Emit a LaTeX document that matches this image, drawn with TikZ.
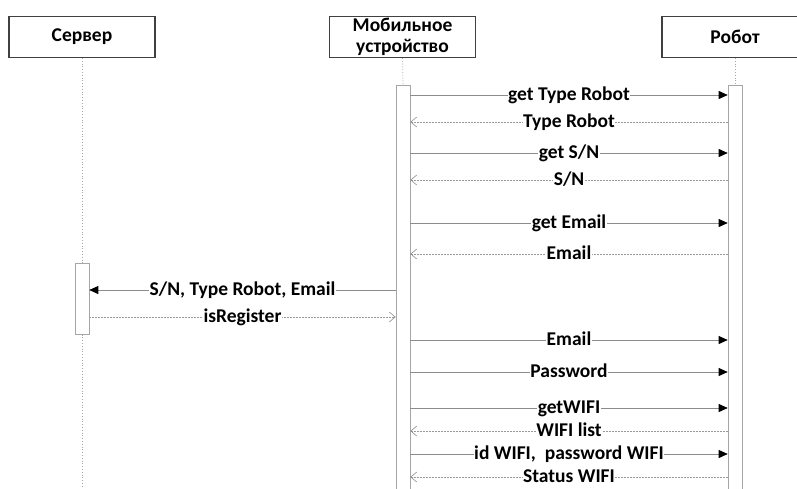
\documentclass[tikz,border=0pt]{standalone}
\usepackage{fontspec}
\setmainfont{Carlito}
\usetikzlibrary{arrows.meta}

\begin{document}
\begin{tikzpicture}[x=1pt,y=-1pt,
  font=\bfseries\fontsize{19.5}{21}\selectfont,
  head/.style={draw=black!75, line width=1.1pt, minimum width=146pt, minimum height=41pt, inner sep=0pt, align=center},
  bar/.style={draw=black!35, fill=white, line width=0.6pt, minimum width=14pt, inner sep=0pt, anchor=north},
  life/.style={draw=black!35, dotted, line width=0.8pt},
  call/.style={draw=black!45, line width=0.7pt, -{Triangle[length=9pt,width=8pt,black]}},
  ret/.style={draw=black!40, dash pattern=on 1.5pt off 1.5pt, line width=0.6pt, -{Straight Barb[length=6pt,width=10pt,black!45]}},
  lbl/.style={fill=white, inner sep=0.5pt, anchor=base, yshift=-5.5pt}]
\useasboundingbox (0,0) rectangle (797,488);
% heads
\node[head] (srv) at (82,37) {Сервер};
\node[head] (mob) at (402.5,37) {Мобильное\\устройство};
\node[head] (rob) at (735,37) {Робот};
% bars
\node[bar, minimum height=71pt] (srvbar) at (82,263) {};
\node[bar, minimum height=420pt] (mobbar) at (403,85) {};
\node[bar, minimum height=420pt] (robbar) at (735,85) {};
% lifelines
\coordinate (srvend) at (82,488);
\draw[life] (srv.south) -- (srvbar.north);
\draw[life] (srvbar.south) -- (srvend);
\draw[life] (mob.south) -- (mobbar.north);
\draw[life] (rob.south) -- (robbar.north);
% robot
\draw[call] (mobbar.east |- 0,95) -- node[lbl] {get Type Robot} (robbar.west |- 0,95);
\draw[ret] (robbar.west |- 0,122) -- node[lbl] {Type Robot} (mobbar.east |- 0,122);
\draw[call] (mobbar.east |- 0,153) -- node[lbl] {get S/N} (robbar.west |- 0,153);
\draw[ret] (robbar.west |- 0,180) -- node[lbl] {S/N} (mobbar.east |- 0,180);
\draw[call] (mobbar.east |- 0,223) -- node[lbl] {get Email} (robbar.west |- 0,223);
\draw[ret] (robbar.west |- 0,254) -- node[lbl] {Email} (mobbar.east |- 0,254);
% server
\draw[call] (mobbar.west |- 0,290) -- node[lbl] {S/N, Type Robot, Email} (srvbar.east |- 0,290);
\draw[ret] (srvbar.east |- 0,317) -- node[lbl] {isRegister} (mobbar.west |- 0,317);
% wifi
\draw[call] (mobbar.east |- 0,340) -- node[lbl] {Email} (robbar.west |- 0,340);
\draw[call] (mobbar.east |- 0,372) -- node[lbl] {Password} (robbar.west |- 0,372);
\draw[call] (mobbar.east |- 0,408) -- node[lbl] {getWIFI} (robbar.west |- 0,408);
\draw[ret] (robbar.west |- 0,431) -- node[lbl] {WIFI list} (mobbar.east |- 0,431);
\draw[call] (mobbar.east |- 0,454) -- node[lbl] {id WIFI,~ password WIFI} (robbar.west |- 0,454);
\draw[ret] (robbar.west |- 0,477) -- node[lbl] {Status WIFI} (mobbar.east |- 0,477);
\end{tikzpicture}
\end{document}
